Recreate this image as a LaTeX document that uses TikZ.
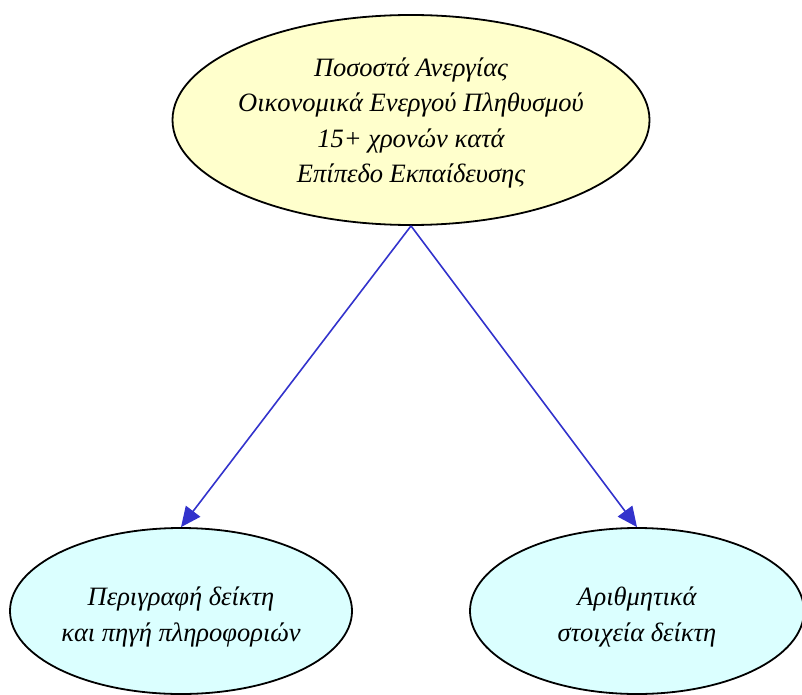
\documentclass[tikz,border=0pt]{standalone}
\usepackage{fontspec}
\setmainfont{Liberation Serif}
\usetikzlibrary{shapes.geometric,arrows.meta}
\definecolor{topfill}{HTML}{FFFFCC}
\definecolor{botfill}{HTML}{DBFFFF}
\definecolor{edgeblue}{HTML}{3333CC}
\begin{document}
\begin{tikzpicture}[x=1pt,y=-1pt,
  ell/.style={ellipse,draw=black,line width=1.8pt,inner sep=0pt},
  lbl/.style={inner sep=0pt,align=center,font=\fontsize{26.5}{35.5}\selectfont\itshape},
  conn/.style={draw=edgeblue,line width=1.6pt,-{Triangle[length=20pt,width=18pt]}}]
\useasboundingbox (0,0) rectangle (802,695);
\node[ell,fill=topfill,minimum width=477pt,minimum height=210pt] (top) at (411,120) {};
\node[ell,fill=botfill,minimum width=342pt,minimum height=166pt] (left) at (181,611) {};
\node[ell,fill=botfill,minimum width=334pt,minimum height=166pt] (right) at (637,611) {};
\node[lbl] (toptext) at (411,123)
  {Ποσοστά Ανεργίας\\Οικονομικά Ενεργού Πληθυσμού\\15+ χρονών κατά\\Επίπεδο Εκπαίδευσης};
\node[lbl] (lefttext) at (181,617) {Περιγραφή δείκτη\\και πηγή πληροφοριών};
\node[lbl] (righttext) at (637,617) {Αριθμητικά\\στοιχεία δείκτη};
\draw[conn] (top.south) -- (left.north);
\draw[conn] (top.south) -- (right.north);
\end{tikzpicture}
\end{document}
